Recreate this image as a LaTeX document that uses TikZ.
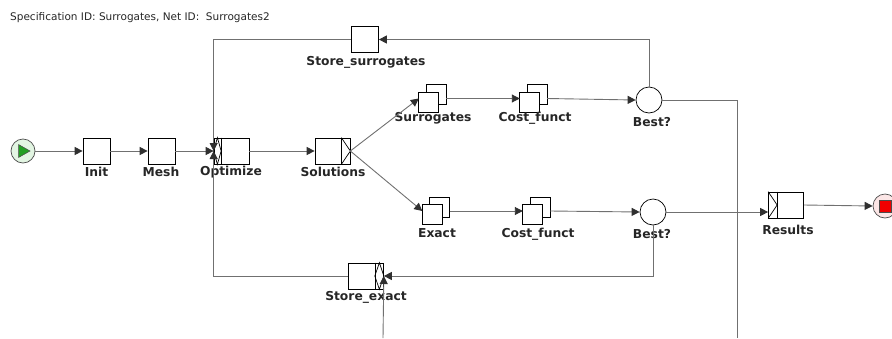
\documentclass[tikz,border=0pt]{standalone}
\usepackage{fontspec}
\setmainfont{DejaVu Sans}
\usetikzlibrary{arrows.meta,calc}
\definecolor{connc}{HTML}{707070}
\definecolor{tipc}{HTML}{303030}
\definecolor{startfill}{HTML}{E2F5E2}
\definecolor{startgreen}{HTML}{22A022}
\definecolor{endfill}{HTML}{FCE6E6}
\definecolor{endred}{HTML}{F00000}
\newcommand{\multitask}[3]{%
  \node[mbox] (#1) at (#2,#3) {};
  \draw[taskline,fill=white] (#1.north east) rectangle ++(-20,20);
  \draw[taskline,fill=white] (#1.south west) rectangle ++(20,-20);
}
\begin{document}
\begin{tikzpicture}[x=1pt,y=-1pt,
  conn/.style={draw=connc, line width=0.9pt},
  arr/.style={conn, -{Triangle[length=8pt,width=8pt,color=tipc]}},
  taskline/.style={draw=black, line width=0.7pt},
  task/.style={taskline, fill=white, minimum width=27pt, minimum height=26pt, inner sep=0pt},
  wtask/.style={task, minimum width=35pt},
  mbox/.style={minimum width=27pt, minimum height=27pt, inner sep=0pt},
  cond/.style={circle, draw=black, line width=0.7pt, fill=white, minimum size=26pt, inner sep=0pt},
  lab/.style={font=\fontsize{12.3}{14}\selectfont\bfseries, inner sep=0pt, text=black!85},
  hdr/.style={font=\fontsize{10.5}{12}\selectfont, inner sep=0pt, anchor=base west, text=black!85}
]
\useasboundingbox (0,0) rectangle (892,338);

\node[hdr] (header) at (10,20) {Specification ID: Surrogates, Net ID:\ \ Surrogates2};

% start and end
\node[circle, draw=black!70, line width=0.7pt, fill=startfill, minimum size=24pt, inner sep=0pt] (start) at (23,151) {};
\fill[startgreen] ($(start)+(-4.5,-6.5)$) -- ($(start)+(7,0)$) -- ($(start)+(-4.5,6.5)$) -- cycle;
\draw[black!70, line width=0.5pt] ($(start)+(-4.5,-6.5)$) -- ($(start)+(7,0)$) -- ($(start)+(-4.5,6.5)$) -- cycle;

\node[circle, draw=black!70, line width=0.7pt, fill=endfill, minimum size=24pt, inner sep=0pt] (end) at (885,206) {};
\fill[endred, draw=black!70, line width=0.5pt] ($(end)+(-6,-6)$) rectangle ($(end)+(6,6)$);

% tasks
\node[task] (init) at (96.5,151) {};
\node[lab] (linit) at (96.5,172) {Init};
\node[task] (mesh) at (161.5,151) {};
\node[lab] (lmesh) at (161,172) {Mesh};

\node[wtask] (opt) at (231.5,151) {};
\draw[taskline] ($(opt.north west)+(7.5,0)$) -- ($(opt.south west)+(7.5,0)$);
\draw[taskline] (opt.west) -- ($(opt.north west)+(3.75,0)$) -- ($(opt.west)+(7.5,0)$) -- ($(opt.south west)+(3.75,0)$) -- cycle;
\node[lab] (lopt) at (231,172) {Optimize};

\node[wtask] (sol) at (332.5,151) {};
\draw[taskline] ($(sol.north east)+(-9,0)$) -- ($(sol.south east)+(-9,0)$);
\draw[taskline] ($(sol.north east)+(-9,0)$) -- (sol.east) -- ($(sol.south east)+(-9,0)$);
\node[lab] (lsol) at (333,172) {Solutions};

\node[task] (ss) at (365,39.5) {};
\node[lab] (lss) at (366,62) {Store\_surrogates};

\node[wtask] (se) at (366,276) {};
\draw[taskline] ($(se.north east)+(-9,0)$) -- ($(se.south east)+(-9,0)$);
\draw[taskline] ($(se.east)+(-9,0)$) -- ($(se.north east)+(-4.5,0)$) -- (se.east) -- ($(se.south east)+(-4.5,0)$) -- cycle;
\node[lab] (lse) at (366,297) {Store\_exact};

\node[wtask] (res) at (786,205) {};
\draw[taskline] ($(res.north west)+(9,0)$) -- ($(res.south west)+(9,0)$);
\draw[taskline] (res.north west) -- ($(res.west)+(9,0)$) -- (res.south west);
\node[lab] (lres) at (788,230) {Results};

% multiple-instance tasks
\multitask{surr}{432.5}{98.5}
\node[lab] (lsurr) at (433,118) {Surrogates};
\multitask{cft}{533.5}{98.5}
\node[lab] (lcft) at (535,118) {Cost\_funct};
\multitask{ex}{436}{211}
\node[lab] (lex) at (437,233) {Exact};
\multitask{cfb}{536.5}{211}
\node[lab] (lcfb) at (538,234) {Cost\_funct};

% conditions
\node[cond] (bt) at (649,100) {};
\node[lab] (lbt) at (652,122) {Best?};
\node[cond] (bb) at (653,212) {};
\node[lab] (lbb) at (652,234) {Best?};

% loose ends
\coordinate (offA) at (737,338);
\coordinate (offB) at (383,338);

% connectors
\draw[arr] (start) -- (init);
\draw[arr] (init) -- (mesh);
\draw[arr] (mesh) -- (opt.west);
\draw[arr] (ss.west) -| (opt.west);
\draw[arr] (se.west) -| (opt.west);
\draw[arr] (opt.east) -- (sol.west);
\draw[arr] (sol.east) -- (surr.west);
\draw[arr] (sol.east) -- (ex.west);
\draw[arr] (surr.east) -- (cft.west);
\draw[arr] (cft.east) -- (bt.west);
\draw[arr] (ex.east) -- (cfb.west);
\draw[arr] (cfb.east) -- (bb.west);
\draw[arr] (bt.north) |- (ss.east);
\draw[conn] (bt.east) -| (offA);
\draw[arr] (bb.east) -- (bb.east -| res.west);
\draw[arr] (bb.south) |- (se.east);
\draw[arr] (offB) -- (se.east);
\draw[arr] (res.east) -- (end.west);
\end{tikzpicture}
\end{document}
